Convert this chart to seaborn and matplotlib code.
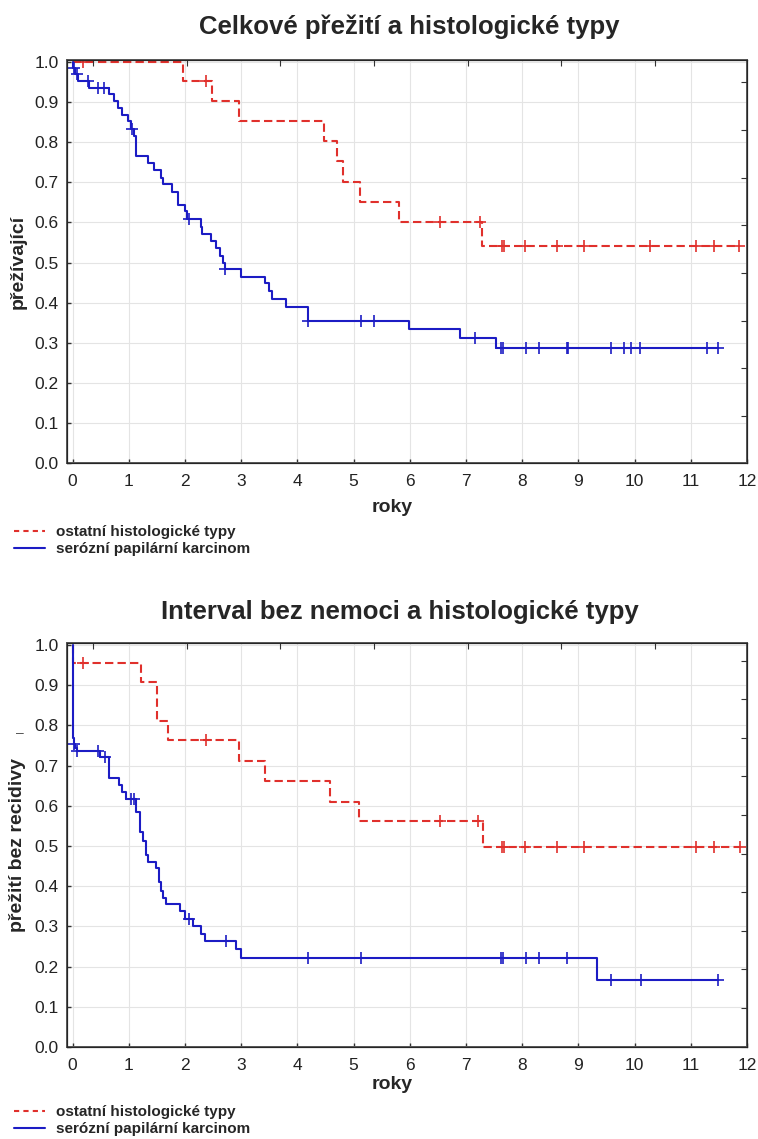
import matplotlib
matplotlib.use("Agg")
import matplotlib.pyplot as plt
from matplotlib.lines import Line2D
import seaborn as sns
import numpy as np
import pandas as pd

# ── data (Kaplan-Meier steps: time of drop, survival after it) ──
os_other_t = [0, 1.97, 2.48, 2.96, 4.47, 4.71, 4.81, 5.12, 5.80, 7.28]
os_other_s = [1.0, 0.952, 0.903, 0.852, 0.802, 0.752, 0.700, 0.652, 0.600, 0.541]
os_other_cens = [0.18, 2.38, 6.54, 7.24, 7.64, 7.68, 8.05, 8.62, 9.10, 10.28, 11.10, 11.41, 11.85]

os_serous_t = [0, 0.01, 0.05, 0.10, 0.29, 0.65, 0.74, 0.80, 0.87, 0.98, 1.03, 1.10, 1.13,
               1.34, 1.44, 1.58, 1.61, 1.77, 1.88, 2.00, 2.04, 2.28, 2.31, 2.47, 2.56,
               2.62, 2.67, 2.71, 3.00, 3.42, 3.49, 3.55, 3.79, 4.18, 5.99, 6.89, 7.54]
os_serous_s = [1.0, 0.985, 0.969, 0.953, 0.936, 0.921, 0.903, 0.885, 0.868, 0.852, 0.834, 0.816, 0.765,
               0.747, 0.731, 0.712, 0.696, 0.677, 0.643, 0.628, 0.609, 0.588, 0.571, 0.553, 0.537,
               0.517, 0.500, 0.484, 0.465, 0.448, 0.428, 0.410, 0.390, 0.355, 0.333, 0.311, 0.287]
os_serous_cens = [0.03, 0.08, 0.28, 0.45, 0.56, 1.06, 2.07, 2.72, 4.18, 5.13, 5.36, 7.16, 7.62,
                  7.65, 8.07, 8.29, 8.79, 8.82, 9.58, 9.81, 9.93, 10.10, 11.28, 11.48]

dfs_other_t = [0, 0.01, 1.21, 1.51, 1.69, 2.96, 3.43, 4.58, 5.10, 7.31]
dfs_other_s = [1.0, 0.955, 0.907, 0.812, 0.764, 0.712, 0.662, 0.610, 0.561, 0.497]
dfs_other_cens = [0.18, 2.38, 6.53, 7.22, 7.64, 7.68, 8.05, 8.62, 9.10, 11.10, 11.41, 11.87]

dfs_serous_t = [0, 0.01, 0.02, 0.05, 0.07, 0.48, 0.65, 0.83, 0.87, 0.95, 1.13, 1.20, 1.25, 1.31,
                1.35, 1.49, 1.54, 1.58, 1.61, 1.66, 1.91, 2.00, 2.15, 2.28, 2.36, 2.90, 2.99, 9.33]
dfs_serous_s = [1.0, 0.768, 0.753, 0.743, 0.737, 0.722, 0.670, 0.652, 0.634, 0.617, 0.585, 0.536, 0.512, 0.478,
                0.459, 0.444, 0.410, 0.388, 0.371, 0.356, 0.338, 0.319, 0.300, 0.281, 0.263, 0.244, 0.221, 0.166]
dfs_serous_cens = [0.03, 0.07, 0.46, 0.57, 1.04, 1.09, 2.07, 2.73, 4.18, 5.13, 7.62, 7.65, 8.07,
                   8.29, 8.79, 9.58, 10.11, 11.48]

labels = ["ostatní histologické typy", "serózní papilární karcinom"]
titles = ["Celkové přežití a histologické typy", "Interval bez nemoci a histologické typy"]
ylabels = ["přežívající", "přežití bez recidivy"]
xlabel = "roky"
xticks = list(range(0, 13))
yticks = [i / 10 for i in range(0, 11)]

RED = "#e0302c"
BLUE = "#1c1cc4"
DASH = (0, (4, 2))

sns.set_style("white")
plt.rcParams["font.family"] = ["Liberation Sans", "DejaVu Sans"]
NARROW = ["Liberation Sans Narrow", "Liberation Sans", "DejaVu Sans"]


def km_frame(t, s, cens):
    end = max(cens)
    return pd.DataFrame({"t": list(t) + [end], "s": list(s) + [s[-1]]})


def cens_frame(t, s, cens):
    idx = np.searchsorted(np.array(t), np.array(cens), side="right") - 1
    return pd.DataFrame({"t": cens, "s": np.array(s)[idx]})


def draw_panel(ax, curves):
    for (t, s, cens), col, ls in curves:
        sns.lineplot(data=km_frame(t, s, cens), x="t", y="s", ax=ax, color=col,
                     drawstyle="steps-post", estimator=None, sort=False,
                     linewidth=1.5, linestyle=ls)
        sns.scatterplot(data=cens_frame(t, s, cens), x="t", y="s", ax=ax, color=col,
                        marker="+", s=75, linewidth=1.2, zorder=4)
    ax.set_xlim(-0.1, 12)
    ax.set_ylim(0, 1.005)
    ax.set_xticks(xticks)
    ax.set_yticks(yticks)
    ax.set_yticklabels([f"{v:.1f}" for v in yticks])
    ax.grid(True, color="#e4e4e4", linewidth=0.8)
    for sp in ax.spines.values():
        sp.set_color("#5a5a5a")
        sp.set_linewidth(1.4)
    ax.tick_params(axis="both", direction="in", length=3, width=1, colors="#333333",
                   labelsize=12.5, labelcolor="#222222")
    ax.tick_params(axis="x", pad=8)
    ax.tick_params(axis="y", pad=6)
    for lab in ax.get_xticklabels() + ax.get_yticklabels():
        lab.set_family(NARROW)
    # secondary tick marks on top/right (no labels)
    top = ax.twiny()
    top.set_xlim(ax.get_xlim())
    top.set_xticks(np.arange(0.36, 12, 5 / 3))
    top.tick_params(direction="in", length=4, labeltop=False, colors="#333333")
    right = ax.twinx()
    right.set_ylim(ax.get_ylim())
    right.grid(False)
    top.grid(False)
    return top, right


fig = plt.figure(figsize=(7.58, 11.39), dpi=100)
ax1 = fig.add_axes([0.0884, 0.5935, 0.8971, 0.3538])
ax2 = fig.add_axes([0.0884, 0.0808, 0.8971, 0.3547])

_, r1 = draw_panel(ax1, [((os_other_t, os_other_s, os_other_cens), RED, DASH),
                         ((os_serous_t, os_serous_s, os_serous_cens), BLUE, "-")])
r1.set_yticks(np.arange(0.95, 0, -0.119))
r1.tick_params(direction="in", length=4, labelright=False, colors="#333333")

_, r2 = draw_panel(ax2, [((dfs_other_t, dfs_other_s, dfs_other_cens), RED, DASH),
                         ((dfs_serous_t, dfs_serous_s, dfs_serous_cens), BLUE, "-")])
r2.set_yticks(np.arange(0.961, 0, -0.096))
r2.tick_params(direction="in", length=4, labelright=False, colors="#333333")

for ax, yl in zip([ax1, ax2], ylabels):
    ax.set_xlabel(xlabel, fontsize=14, fontweight="bold")
    ax.set_ylabel(yl, fontsize=14, fontweight="bold")
    ax.yaxis.set_label_coords(-0.06, 0.5)

ax1.xaxis.set_label_coords(0.478, -0.09)
ax2.xaxis.set_label_coords(0.478, -0.073)

fig.text(409 / 758, 1 - 27 / 1139, titles[0], ha="center", va="center", fontsize=18.5, fontweight="bold")
fig.text(400 / 758, 1 - 612 / 1139, titles[1], ha="center", va="center", fontsize=18.5, fontweight="bold")
fig.text(20 / 758, 1 - 733 / 1139, "–", ha="center", va="center", fontsize=10, color="#555555")

handles = [Line2D([], [], color=RED, linestyle=(0, (2.5, 2)), linewidth=1.5),
           Line2D([], [], color=BLUE, linestyle="-", linewidth=1.5)]
for ytop in [1 - 525 / 1139, 1 - 1105 / 1139]:
    fig.legend(handles, labels, loc="upper left", bbox_to_anchor=(14 / 758, ytop),
               frameon=False, handlelength=2.0, handletextpad=0.75, labelspacing=0.2,
               borderpad=0, borderaxespad=0, prop={"weight": "bold", "size": 11})

plt.savefig("out.png", dpi=100)
plt.close()
